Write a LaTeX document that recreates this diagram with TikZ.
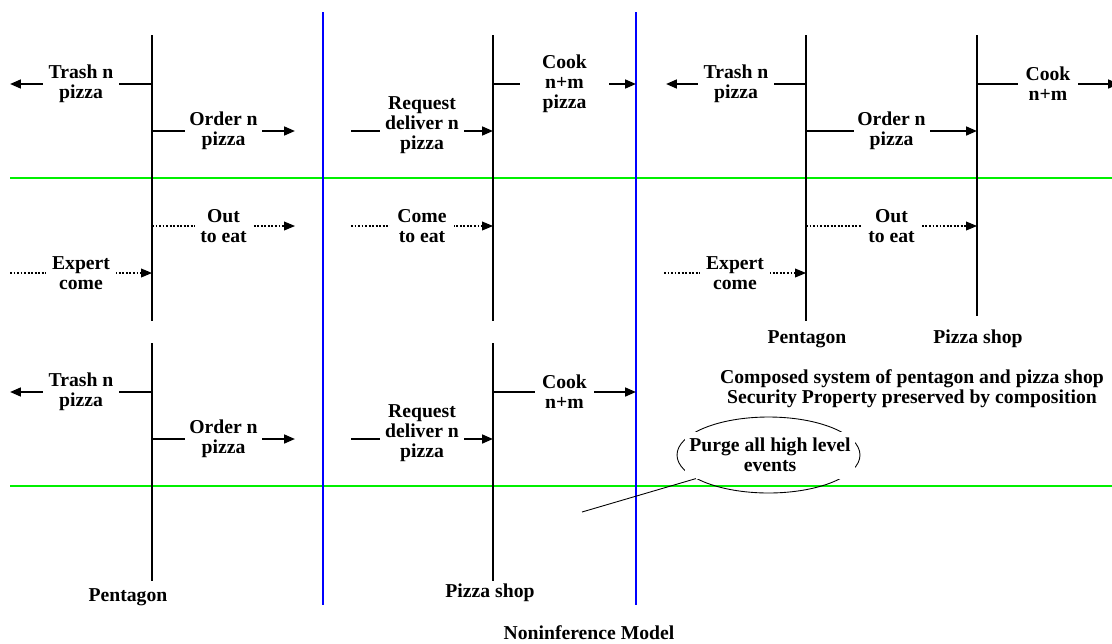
\documentclass[tikz,border=0pt]{standalone}
\usepackage{fontspec}
\setmainfont{Liberation Serif}
\usetikzlibrary{arrows.meta,shapes.geometric}
\definecolor{levelgreen}{RGB}{0,240,0}
\begin{document}
\begin{tikzpicture}[x=0.02cm,y=-0.02cm,
  every node/.style={font=\bfseries\fontsize{11.2}{11.4}\selectfont, align=center, inner sep=0pt},
  lifeline/.style={line width=1.3pt, black},
  boundline/.style={line width=1.1pt, blue},
  sepline/.style={line width=1.3pt, levelgreen},
  arrowend/.style={-{Triangle[length=6.2pt,width=5pt]}},
  msg/.style={line width=1.2pt, arrowend},
  hidmsg/.style={line width=0.6pt, dash pattern=on 1.1pt off 0.9pt, arrowend},
  lbl/.style={fill=white, minimum height=0.9cm}
]
\useasboundingbox (0,0) rectangle (1112,643);
\fill[white] (0,0) rectangle (1112,643);
\clip (0,0) rectangle (1112,643);

% high/low level separators
\draw[sepline] (10,178) -- (1112,178);
\draw[sepline] (10,486) -- (1112,486);

% system boundaries
\draw[boundline] (323,12) -- (323,605);
\draw[boundline] (636,12) -- (636,605);

% lifeline end points
\coordinate (penA)  at (152,35);  \coordinate (penAe)  at (152,321);
\coordinate (shopA) at (493,35);  \coordinate (shopAe) at (493,321);
\coordinate (penC)  at (806,35);  \coordinate (penCe)  at (806,321);
\coordinate (shopC) at (977,35);  \coordinate (shopCe) at (977,316);
\coordinate (penB)  at (152,343); \coordinate (penBe)  at (152,581);
\coordinate (shopB) at (493,343); \coordinate (shopBe) at (493,581);

\draw[lifeline] (penA) -- (penAe);
\draw[lifeline] (shopA) -- (shopAe);
\draw[lifeline] (penC) -- (penCe);
\draw[lifeline] (shopC) -- (shopCe);
\draw[lifeline] (penB) -- (penBe);
\draw[lifeline] (shopB) -- (shopBe);

% free ends of messages
\coordinate (westA)  at (10,0);
\coordinate (eastA)  at (295,0);
\coordinate (westM)  at (351,0);
\coordinate (eastM)  at (636,0);
\coordinate (westC)  at (666,0);
\coordinate (westCd) at (664,0);
\coordinate (eastC)  at (1119,0);

% ---- Pentagon alone (upper row)
\draw[msg] (penA |- 0,84) -- node[lbl, minimum width=1.52cm] (trashA) {Trash n\\pizza} (westA |- 0,84);
\draw[msg] (penA |- 0,131) -- node[lbl, minimum width=1.54cm] (orderA) {Order n\\pizza} (eastA |- 0,131);
\draw[hidmsg] (penA |- 0,226) -- node[lbl, minimum width=1.14cm] (outA) {Out\\to eat} (eastA |- 0,226);
\draw[hidmsg] (westA |- 0,273) -- node[lbl, minimum width=1.4cm] (expertA) {Expert\\come} (penA |- 0,273);

% ---- Pizza shop alone (upper row)
\draw[msg] (westM |- 0,131) -- node[lbl, minimum width=1.68cm, yshift=0.12cm] (reqA) {Request\\deliver n\\pizza} (shopA |- 0,131);
\draw[msg] (shopA |- 0,84) -- node[lbl, minimum width=1.78cm] (cookA) {Cook\\n+m\\pizza} (eastM |- 0,84);
\draw[hidmsg] (westM |- 0,226) -- node[lbl, minimum width=1.3cm] (comeA) {Come\\to eat} (shopA |- 0,226);

% ---- Composed system
\draw[msg] (penC |- 0,84) -- node[lbl, minimum width=1.52cm] (trashC) {Trash n\\pizza} (westC |- 0,84);
\draw[msg] (penC |- 0,131) -- node[lbl, minimum width=1.52cm] (orderC) {Order n\\pizza} (shopC |- 0,131);
\draw[msg] (shopC |- 0,84) -- node[lbl, minimum width=1.2cm] (cookC) {Cook\\n+m} (eastC |- 0,84);
\draw[hidmsg] (penC |- 0,226) -- node[lbl, minimum width=1.2cm] (outC) {Out\\to eat} (shopC |- 0,226);
\draw[hidmsg] (westCd |- 0,273) -- node[lbl, minimum width=1.4cm] (expertC) {Expert\\come} (penC |- 0,273);

\node (penClbl)  at (807,339) {Pentagon};
\node (shopClbl) at (978,339) {Pizza shop};
\node (composed) at (912,389) {Composed system of pentagon and pizza shop\\Security Property preserved by composition};

% ---- Purged views (lower row)
\draw[msg] (penB |- 0,392) -- node[lbl, minimum width=1.52cm] (trashB) {Trash n\\pizza} (westA |- 0,392);
\draw[msg] (penB |- 0,439) -- node[lbl, minimum width=1.54cm] (orderB) {Order n\\pizza} (eastA |- 0,439);
\draw[msg] (westM |- 0,439) -- node[lbl, minimum width=1.68cm, yshift=0.12cm] (reqB) {Request\\deliver n\\pizza} (shopB |- 0,439);
\draw[msg] (shopB |- 0,392) -- node[lbl, minimum width=1.18cm] (cookB) {Cook\\n+m} (eastM |- 0,392);

\node (penBlbl)  at (128,597) {Pentagon};
\node (shopBlbl) at (490,593) {Pizza shop};

% purge callout
\node[draw, ellipse, line width=0.5pt, minimum width=3.66cm, minimum height=1.52cm] (purge) at (768.5,455) {};
\node[fill=white, minimum width=3.4cm, minimum height=0.94cm] (purgetxt) at (770,455) {Purge all high level\\events};
\coordinate (purgetip) at (582,512);
\draw[line width=0.5pt] (purge.198) -- (purgetip);

\node (title) at (589,633) {Noninference Model};
\end{tikzpicture}
\end{document}
